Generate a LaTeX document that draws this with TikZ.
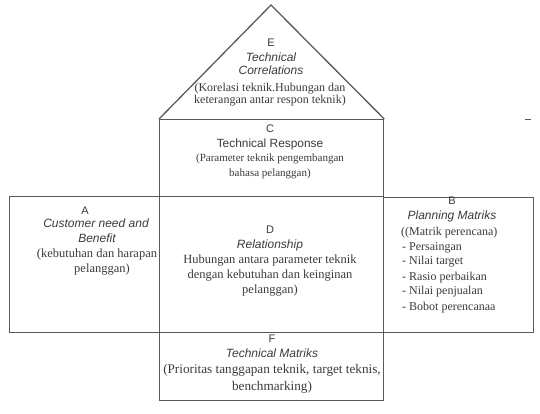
\documentclass[tikz,border=0pt]{standalone}
\usepackage{fontspec}
\setmainfont{Liberation Serif}
\setsansfont{Liberation Sans}
\definecolor{ln}{HTML}{5A5A5A}
\definecolor{txt}{HTML}{3A3A3A}
\tikzset{
  box/.style={draw=ln, line width=1.3pt, inner sep=0pt, anchor=north west},
  roof/.style={draw=ln, line width=1.3pt, line join=miter},
  tx/.style={anchor=base, inner sep=0pt, text=txt},
  lbl/.style={tx, font=\sffamily\fontsize{11}{13}\selectfont},
  ttl/.style={tx, font=\sffamily\itshape\fontsize{12}{14}\selectfont},
  ttlu/.style={tx, font=\sffamily\fontsize{11.9}{14}\selectfont},
  sE/.style={tx, font=\fontsize{12}{14}\selectfont},
  sC/.style={tx, font=\fontsize{11}{13}\selectfont},
  sA/.style={tx, font=\fontsize{12.5}{14}\selectfont},
  sD/.style={tx, font=\fontsize{12.5}{14}\selectfont},
  sB/.style={tx, anchor=base west, font=\fontsize{12}{14}\selectfont},
  sF/.style={tx, font=\fontsize{13.2}{15}\selectfont},
}
\begin{document}
\begin{tikzpicture}[x=1pt,y=-1pt]
\useasboundingbox (0,0) rectangle (540,413);
% boxes
\node[box, minimum width=224pt, minimum height=77pt] (boxC) at (159,119) {};
\node[box, minimum width=150pt, minimum height=136pt] (boxA) at (9,196) {};
\node[box, minimum width=224pt, minimum height=136pt] (boxD) at (159,196) {};
\node[box, minimum width=150pt, minimum height=135pt] (boxB) at (383,197) {};
\node[box, minimum width=224pt, minimum height=68pt] (boxF) at (159,332) {};
% roof
\coordinate (apex) at (271,5);
\draw[roof] (boxC.north west) -- (apex) -- (boxC.north east);
% small dash at right
\coordinate (d1) at (525,119);
\coordinate (d2) at (531,119);
\draw[draw=ln, line width=1pt] (d1) -- (d2);
% E
\node[lbl] (eL) at (271,46) {E};
\node[ttl] (eT1) at (271,61) {Technical};
\node[ttl] (eT2) at (271,74) {Correlations};
\node[sE] (eS1) at (270,91) {(Korelasi teknik.Hubungan dan};
\node[sE] (eS2) at (270,103) {keterangan antar respon teknik)};
% C
\node[lbl] (cL) at (270,132) {C};
\node[ttlu] (cT) at (270,147) {Technical Response};
\node[sC] (cS1) at (270,161) {(Parameter teknik pengembangan};
\node[sC] (cS2) at (270,176) {bahasa pelanggan)};
% A
\node[lbl] (aL) at (85,214) {A};
\node[ttl] (aT1) at (96,227) {Customer need and};
\node[ttl] (aT2) at (97,242) {Benefit};
\node[sA] (aS1) at (97,257) {(kebutuhan dan harapan};
\node[sA] (aS2) at (102,272) {pelanggan)};
% D
\node[lbl] (dL) at (270,233) {D};
\node[ttl] (dT) at (270,248) {Relationship};
\node[sD] (dS1) at (270,263) {Hubungan antara parameter teknik};
\node[sD] (dS2) at (270,278) {dengan kebutuhan dan keinginan};
\node[sD] (dS3) at (270,293) {pelanggan)};
% B
\node[lbl] (bL) at (452,204) {B};
\node[ttl] (bT) at (452,219) {Planning Matriks};
\node[sB] (bS0) at (401,235) {((Matrik perencana)};
\node[sB] (bS1) at (402,250) {- Persaingan};
\node[sB] (bS2) at (402,264) {- Nilai target};
\node[sB] (bS3) at (402,280) {- Rasio perbaikan};
\node[sB] (bS4) at (402,294) {- Nilai penjualan};
\node[sB] (bS5) at (402,310) {- Bobot perencanaa};
% F
\node[lbl] (fL) at (272,342) {F};
\node[ttl] (fT) at (272,357) {Technical Matriks};
\node[sF] (fS1) at (272,373) {(Prioritas tanggapan teknik, target teknis,};
\node[sF] (fS2) at (272,390) {benchmarking)};
\end{tikzpicture}
\end{document}
